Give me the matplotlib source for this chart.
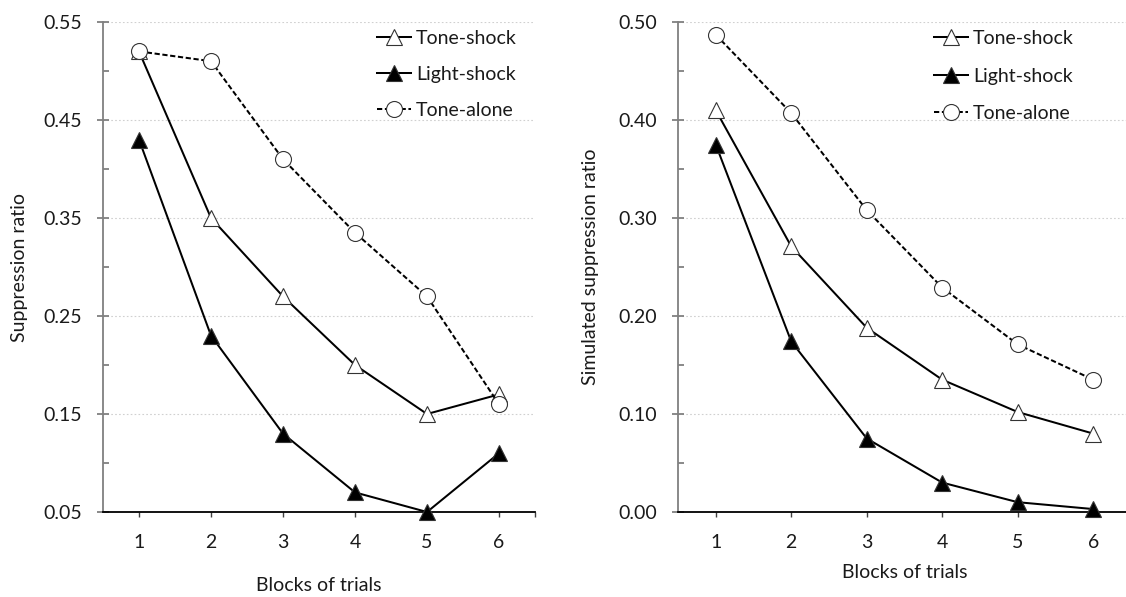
import matplotlib
matplotlib.use("Agg")
import matplotlib.pyplot as plt
from matplotlib.ticker import FixedLocator

plt.rcParams['font.family'] = ['Lato', 'DejaVu Sans']

# ---- data ----
blocks = [1, 2, 3, 4, 5, 6]
series_names = ["Tone-shock", "Light-shock", "Tone-alone"]

obs_tone_shock = [0.52, 0.35, 0.27, 0.20, 0.15, 0.17]
obs_light_shock = [0.43, 0.23, 0.13, 0.07, 0.05, 0.11]
obs_tone_alone = [0.52, 0.51, 0.41, 0.335, 0.27, 0.16]

sim_tone_shock = [0.410, 0.271, 0.188, 0.135, 0.102, 0.080]
sim_light_shock = [0.375, 0.174, 0.075, 0.030, 0.010, 0.003]
sim_tone_alone = [0.487, 0.407, 0.308, 0.229, 0.171, 0.135]

left_yticks = [0.05, 0.15, 0.25, 0.35, 0.45, 0.55]
right_yticks = [0.00, 0.10, 0.20, 0.30, 0.40, 0.50]

W, H = 1126, 597
fig = plt.figure(figsize=(W / 100, H / 100), dpi=100)


def px_axes(x0, x1, ytop, ybot):
    return fig.add_axes([x0 / W, (H - ybot) / H, (x1 - x0) / W, (ybot - ytop) / H])


axL = px_axes(103, 535, 22, 512)
axR = px_axes(678, 1131, 22, 512)

TXT = '#1a1a1a'
FS = 14


def style(ax, yticks, ylabel, xlab_y):
    ax.set_xlim(0.5, 6.5)
    ax.set_ylim(yticks[0], yticks[-1])
    ax.set_yticks(yticks)
    ax.set_yticklabels([f"{v:.2f}" for v in yticks])
    ax.yaxis.set_minor_locator(FixedLocator([v + 0.05 for v in yticks[:-1]]))
    ax.set_xticks(blocks)
    ax.xaxis.set_minor_locator(FixedLocator([6.5]))
    for s in ['top', 'right']:
        ax.spines[s].set_visible(False)
    ax.spines['left'].set_color('#808080')
    ax.spines['left'].set_linewidth(1.3)
    ax.spines['bottom'].set_color('#000000')
    ax.spines['bottom'].set_linewidth(1.3)
    ax.tick_params(axis='y', which='major', direction='inout', length=8.6, width=1.3,
                   color='#808080', pad=10.5, labelsize=FS, labelcolor=TXT)
    ax.tick_params(axis='y', which='minor', direction='in', length=4, width=1.3, color='#808080')
    ax.tick_params(axis='x', which='both', direction='out', length=3.6, width=1.0,
                   color='#404040', pad=12, labelsize=FS, labelcolor=TXT)
    ax.grid(axis='y', which='major', linestyle=(0, (1.5, 2)), color='#d0d0d0', linewidth=0.8)
    ax.set_axisbelow(True)
    ax.set_ylabel(ylabel, fontsize=FS, color=TXT)
    ax.yaxis.set_label_coords(-0.193, 0.5)
    ax.yaxis.label.set_va('center')
    ax.set_xlabel("Blocks of trials", fontsize=FS, color=TXT)
    ax.xaxis.set_label_coords(0.5, xlab_y)
    ax.xaxis.label.set_va('center')


def draw(ax, ts, ls, ta, leg_x, leg_top, spacing):
    kw = dict(color='black', linewidth=1.45, clip_on=False, zorder=3,
              markeredgewidth=0.8, markeredgecolor='#333333')
    l1, = ax.plot(blocks, ts, marker='^', markersize=12, markerfacecolor='white',
                  label=series_names[0], **kw)
    l2, = ax.plot(blocks, ls, marker='^', markersize=12, markerfacecolor='black',
                  label=series_names[1], **kw)
    l3, = ax.plot(blocks, ta, marker='o', markersize=11.5, markerfacecolor='white',
                  linestyle=(0, (2.6, 1.3)), label=series_names[2], **kw)
    ax.legend(handles=[l1, l2, l3], loc='upper left', frameon=False, fontsize=FS,
              bbox_to_anchor=(leg_x / W, 1 - leg_top / H), bbox_transform=fig.transFigure,
              borderpad=0, borderaxespad=0, handlelength=1.75, handletextpad=0.25,
              labelspacing=spacing, labelcolor=TXT)


style(axL, left_yticks, "Suppression ratio", -0.149)
style(axR, right_yticks, "Simulated suppression ratio", -0.124)
draw(axL, obs_tone_shock, obs_light_shock, obs_tone_alone, 377, 30, 0.98)
draw(axR, sim_tone_shock, sim_light_shock, sim_tone_alone, 934, 30, 1.06)

fig.savefig("out.png", dpi=100)
